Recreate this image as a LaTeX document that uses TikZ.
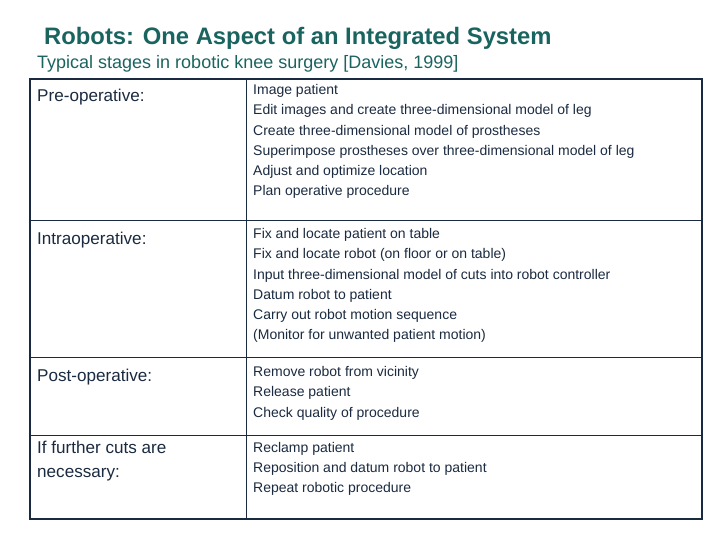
\documentclass[tikz,border=0pt]{standalone}
\usepackage{fontspec}
\setmainfont{Liberation Sans}
\definecolor{teal1}{HTML}{1A6460}
\definecolor{navy}{HTML}{1A2A40}
\begin{document}
\begin{tikzpicture}[x=1pt,y=-1pt,
  ttl/.style={anchor=west,inner sep=0,text=teal1,font=\fontsize{23.8}{28}\selectfont\bfseries},
  sub/.style={anchor=west,inner sep=0,text=teal1,font=\fontsize{18}{21}\selectfont},
  lab/.style={anchor=west,inner sep=0,text=navy,font=\fontsize{17.1}{24}\selectfont,align=left},
  itm/.style={anchor=west,inner sep=0,text=navy,font=\fontsize{14}{16}\selectfont}]
\useasboundingbox (0,0) rectangle (720,540);
\node[ttl] (t) at (44,38) {Robots: One Aspect of an Integrated System};
\node[sub] (s) at (37,64) {Typical stages in robotic knee surgery [Davies, 1999]};
\draw[navy,line width=2.2pt] (30,79) rectangle (702,519);
\draw[navy,line width=1pt] (246,79) -- (246,519) (30,221) -- (702,221) (30,357) -- (702,357) (30,435) -- (702,435);
\node[lab] (l1) at (37,97) {Pre-operative:};
\node[lab] (l2) at (37,240) {Intraoperative:};
\node[lab] (l3) at (37,377) {Post-operative:};
\node[lab,anchor=north west] (l4) at (37,441) {If further cuts are\\necessary:};
\foreach \y/\t [count=\i] in {90/Image patient,110/Edit images and create three-dimensional model of leg,131/Create three-dimensional model of prostheses,151/Superimpose prostheses over three-dimensional model of leg,171/Adjust and optimize location,191/Plan operative procedure,
234/Fix and locate patient on table,254/{Fix and locate robot (on floor or on table)},275/Input three-dimensional model of cuts into robot controller,295/Datum robot to patient,315/Carry out robot motion sequence,335/{(Monitor for unwanted patient motion)},
372/Remove robot from vicinity,392/Release patient,413/Check quality of procedure,
448/Reclamp patient,468/Reposition and datum robot to patient,488/Repeat robotic procedure}
  \node[itm] (r\i) at (253,\y+1) {\t};
\end{tikzpicture}
\end{document}
